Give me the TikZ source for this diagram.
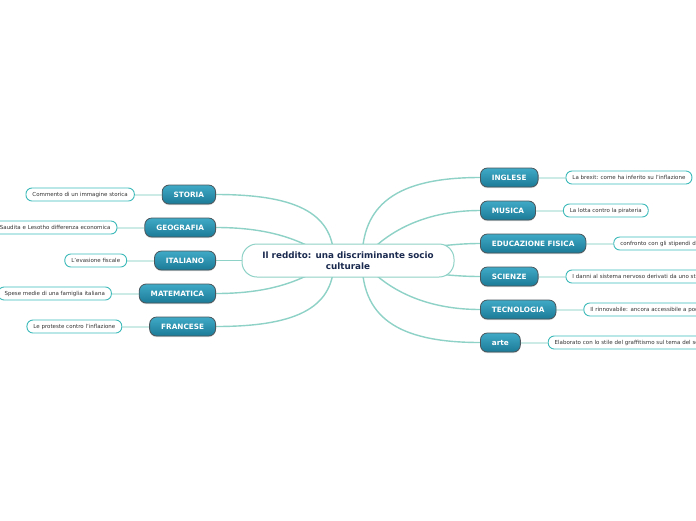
\documentclass[tikz,border=0pt]{standalone}
\usepackage{fontspec}
\setmainfont{DejaVu Sans}
\usetikzlibrary{positioning,backgrounds,shadows}

\definecolor{branchline}{HTML}{8ED1C6}
\definecolor{leafline}{HTML}{CDEBE6}
\definecolor{leafborder}{HTML}{3BB9B9}
\definecolor{subjtop}{HTML}{40AAC6}
\definecolor{subjbottom}{HTML}{1B7A97}
\definecolor{subjborder}{HTML}{4A565B}
\definecolor{titletext}{HTML}{1B2A4F}

\begin{document}
\begin{tikzpicture}[
    x=1pt, y=-1pt,
    central/.style={draw=branchline, line width=1pt, fill=white, rounded corners=15pt,
                    minimum width=212pt, minimum height=33pt, align=center, text=titletext,
                    font=\fontsize{8.8}{10.5}\selectfont\bfseries},
    subject/.style={draw=subjborder, line width=0.8pt, rounded corners=7pt,
                    top color=subjtop, bottom color=subjbottom, text=white,
                    font=\fontsize{7.3}{8}\selectfont\bfseries, minimum height=19pt,
                    inner xsep=11.5pt, inner ysep=0pt,
                    drop shadow={shadow xshift=0pt, shadow yshift=-1.2pt, opacity=0.3}},
    leaf/.style={draw=leafborder, line width=0.9pt, fill=white, rounded corners=6pt,
                 font=\fontsize{5.5}{6}\selectfont, minimum height=13pt,
                 inner xsep=6.5pt, inner ysep=0pt, text=black!80},
    cutleaf/.style={leaf, text width=#1, align=left},
    branch/.style={draw=branchline, line width=1.4pt},
    twig/.style={draw=leafline, line width=2pt},
]
    \useasboundingbox (0,0) rectangle (696,520);
    \clip (0,0) rectangle (696,520);

    % centre
    \node[central] (reddito) at (348,260.5) {Il reddito: una discriminante socio\\culturale};
    \coordinate (hubL) at ([xshift=-14pt]reddito.center);
    \coordinate (hubR) at ([xshift=14pt]reddito.center);

    % left subjects
    \node[subject, anchor=east] (storia)  at (216,194.5) {STORIA};
    \node[subject, anchor=east] (geo)     at (216,227.5) {GEOGRAFIA};
    \node[subject, anchor=east] (ital)    at (216,260.5) {ITALIANO};
    \node[subject, anchor=east] (mate)    at (216,293.5) {MATEMATICA};
    \node[subject, anchor=east] (franc)   at (216,326.5) {FRANCESE};

    \node[leaf, left=27pt of storia] (storiaNote) {Commento di un immagine storica};
    \node[leaf, left=27pt of geo, text width=140pt, align=right] (geoNote) {a Saudita e Lesotho differenza economica};
    \node[leaf, left=27pt of ital]   (italNote)   {L'evasione fiscale};
    \node[leaf, left=27pt of mate]   (mateNote)   {Spese medie di una famiglia italiana};
    \node[leaf, left=27pt of franc]  (francNote)  {Le proteste contro l'inflazione};

    % right subjects
    \node[subject, anchor=west] (ingl)  at (480,177.5) {INGLESE};
    \node[subject, anchor=west] (musica) at (480,210.5) {MUSICA};
    \node[subject, anchor=west] (edfis) at (480,243.5) {EDUCAZIONE FISICA};
    \node[subject, anchor=west] (scienze) at (480,276.5) {SCIENZE};
    \node[subject, anchor=west] (tecno) at (480,309.5) {TECNOLOGIA};
    \node[subject, anchor=west] (arte)  at (480,342.5) {arte};

    \node[leaf, right=27pt of ingl]     (inglNote)    {La brexit: come ha inferito su l'inflazione};
    \node[leaf, right=27pt of musica]   (musicaNote)  {La lotta contro la pirateria};
    \node[cutleaf=110pt, right=27pt of edfis]   (edfisNote)   {confronto con gli stipendi de};
    \node[cutleaf=150pt, right=27pt of scienze] (scienzeNote) {I danni al sistema nervoso derivati da uno sti};
    \node[cutleaf=130pt, right=27pt of tecno]   (tecnoNote)   {Il rinnovabile: ancora accessibile a poc};
    \node[cutleaf=170pt, right=27pt of arte]    (arteNote)    {Elaborato con lo stile del graffitismo sul tema del so};

    \begin{scope}[on background layer]
        \fill[white] (0,0) rectangle (696,520);
        % branches to the centre
        \draw[branch] (storia.east) .. controls +(85,0) and +(0,-45) .. (hubL);
        \draw[branch] (geo.east)    .. controls +(65,0) and +(-25,-15) .. (hubL);
        \draw[branch] (ital.east)   -- (hubL);
        \draw[branch] (mate.east)   .. controls +(65,0) and +(-25,15) .. (hubL);
        \draw[branch] (franc.east)  .. controls +(85,0) and +(0,45) .. (hubL);
        \draw[branch] (ingl.west)   .. controls +(-85,0) and +(0,-55) .. (hubR);
        \draw[branch] (musica.west) .. controls +(-60,0) and +(20,-25) .. (hubR);
        \draw[branch] (edfis.west)  .. controls +(-40,0) and +(35,-8) .. (hubR);
        \draw[branch] (scienze.west) .. controls +(-40,0) and +(35,8) .. (hubR);
        \draw[branch] (tecno.west)  .. controls +(-60,0) and +(20,25) .. (hubR);
        \draw[branch] (arte.west)   .. controls +(-85,0) and +(0,55) .. (hubR);
        % notes
        \draw[twig] (storia.west) -- (storiaNote.east);
        \draw[twig] (geo.west)    -- (geoNote.east);
        \draw[twig] (ital.west)   -- (italNote.east);
        \draw[twig] (mate.west)   -- (mateNote.east);
        \draw[twig] (franc.west)  -- (francNote.east);
        \draw[twig] (ingl.east)    -- (inglNote.west);
        \draw[twig] (musica.east)  -- (musicaNote.west);
        \draw[twig] (edfis.east)   -- (edfisNote.west);
        \draw[twig] (scienze.east) -- (scienzeNote.west);
        \draw[twig] (tecno.east)   -- (tecnoNote.west);
        \draw[twig] (arte.east)    -- (arteNote.west);
    \end{scope}
\end{tikzpicture}
\end{document}
